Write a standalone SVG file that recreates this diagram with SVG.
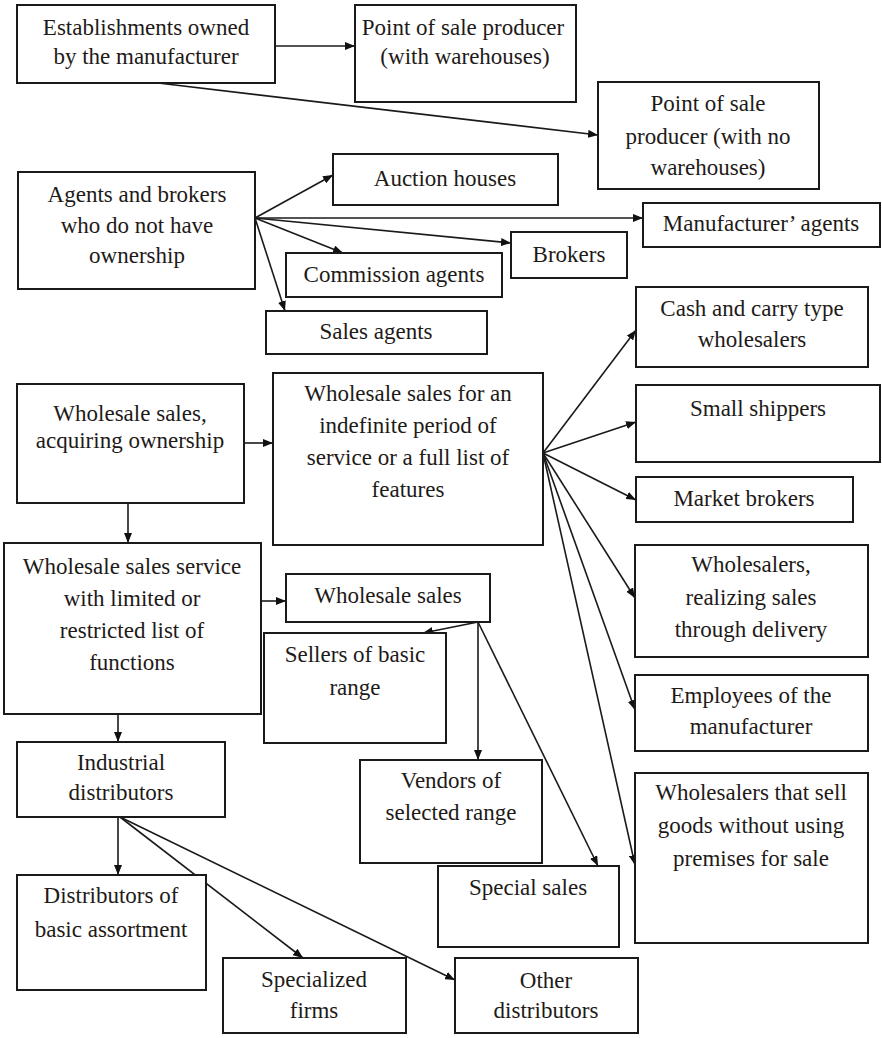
<svg xmlns="http://www.w3.org/2000/svg" width="882" height="1038" viewBox="0 0 882 1038">
  <defs>
    <marker id="arrow" viewBox="0 0 10 8" refX="10" refY="4" markerWidth="10" markerHeight="8" markerUnits="userSpaceOnUse" orient="auto">
      <path d="M0,0 L10,4 L0,8 z" fill="#111"/>
    </marker>
    <style>
      rect { fill: #fff; stroke: #1a1a1a; stroke-width: 2; }
      text { font-family: "Liberation Serif", "Times New Roman", serif; font-size: 23px; fill: #1e1a18; text-anchor: middle; }
      #connectors line { stroke: #1a1a1a; stroke-width: 1.6; marker-end: url(#arrow); }
    </style>
  </defs>
  <rect x="0" y="0" width="882" height="1038" style="fill:#fff;stroke:none"/>

  <!-- connectors -->
  <g id="connectors">
    <line x1="275" y1="46" x2="355" y2="46"/>
    <line x1="158" y1="83" x2="598" y2="135"/>
    <line x1="255" y1="218" x2="333" y2="175"/>
    <line x1="255" y1="218" x2="643" y2="218"/>
    <line x1="255" y1="218" x2="511" y2="243"/>
    <line x1="255" y1="218" x2="343" y2="253"/>
    <line x1="255" y1="218" x2="285" y2="311"/>
    <line x1="244" y1="443" x2="273" y2="443"/>
    <line x1="128" y1="503" x2="128" y2="543"/>
    <line x1="543" y1="453" x2="636" y2="330"/>
    <line x1="543" y1="453" x2="636" y2="422"/>
    <line x1="543" y1="453" x2="636" y2="500"/>
    <line x1="543" y1="453" x2="635" y2="598"/>
    <line x1="543" y1="453" x2="635" y2="710"/>
    <line x1="543" y1="453" x2="635" y2="865"/>
    <line x1="261" y1="601" x2="286" y2="601"/>
    <line x1="478" y1="622" x2="423" y2="633"/>
    <line x1="478" y1="622" x2="478" y2="760"/>
    <line x1="478" y1="622" x2="598" y2="866"/>
    <line x1="118" y1="714" x2="118" y2="742"/>
    <line x1="118" y1="817" x2="118" y2="875"/>
    <line x1="120" y1="817" x2="303" y2="958"/>
    <line x1="120" y1="817" x2="455" y2="980"/>
  </g>

  <g id="establishments">
    <rect x="17" y="5" width="258" height="78"/>
    <text x="146" y="35">Establishments owned</text>
    <text x="146" y="64">by the manufacturer</text>
  </g>
  <g id="pos-with-warehouses">
    <rect x="355" y="5" width="221" height="97"/>
    <text x="463" y="35">Point of sale producer</text>
    <text x="465" y="64">(with warehouses)</text>
  </g>
  <g id="pos-no-warehouses">
    <rect x="598" y="82" width="221" height="107"/>
    <text x="708" y="111">Point of sale</text>
    <text x="708" y="144">producer (with no</text>
    <text x="708" y="175">warehouses)</text>
  </g>
  <g id="agents-brokers">
    <rect x="18" y="172" width="237" height="117"/>
    <text x="137" y="202">Agents and brokers</text>
    <text x="137" y="233">who do not have</text>
    <text x="137" y="263">ownership</text>
  </g>
  <g id="auction-houses">
    <rect x="333" y="154" width="225" height="51"/>
    <text x="445" y="186">Auction houses</text>
  </g>
  <g id="manufacturer-agents">
    <rect x="643" y="203" width="237" height="44"/>
    <text x="761" y="231">Manufacturer’ agents</text>
  </g>
  <g id="brokers">
    <rect x="511" y="232" width="116" height="46"/>
    <text x="569" y="262">Brokers</text>
  </g>
  <g id="commission-agents">
    <rect x="286" y="253" width="216" height="44"/>
    <text x="394" y="282">Commission agents</text>
  </g>
  <g id="sales-agents">
    <rect x="266" y="311" width="221" height="43"/>
    <text x="376" y="339">Sales agents</text>
  </g>
  <g id="cash-carry">
    <rect x="636" y="287" width="232" height="80"/>
    <text x="752" y="316">Cash and carry type</text>
    <text x="752" y="347">wholesalers</text>
  </g>
  <g id="small-shippers">
    <rect x="636" y="385" width="244" height="77"/>
    <text x="758" y="416">Small shippers</text>
  </g>
  <g id="market-brokers">
    <rect x="636" y="477" width="217" height="45"/>
    <text x="744" y="506">Market brokers</text>
  </g>
  <g id="acquiring-ownership">
    <rect x="17" y="384" width="227" height="119"/>
    <text x="130" y="421">Wholesale sales,</text>
    <text x="130" y="448">acquiring ownership</text>
  </g>
  <g id="full-service">
    <rect x="273" y="373" width="270" height="172"/>
    <text x="408" y="401">Wholesale sales for an</text>
    <text x="408" y="433">indefinite period of</text>
    <text x="408" y="465">service or a full list of</text>
    <text x="408" y="497">features</text>
  </g>
  <g id="limited-service">
    <rect x="4" y="543" width="257" height="171"/>
    <text x="132" y="574">Wholesale sales service</text>
    <text x="132" y="606">with limited or</text>
    <text x="132" y="638">restricted list of</text>
    <text x="132" y="670">functions</text>
  </g>
  <g id="wholesale-sales">
    <rect x="286" y="574" width="204" height="48"/>
    <text x="388" y="603">Wholesale sales</text>
  </g>
  <g id="sellers-basic">
    <rect x="264" y="633" width="182" height="110"/>
    <text x="355" y="662">Sellers of basic</text>
    <text x="355" y="695">range</text>
  </g>
  <g id="vendors-selected">
    <rect x="360" y="760" width="182" height="103"/>
    <text x="451" y="788">Vendors of</text>
    <text x="451" y="820">selected range</text>
  </g>
  <g id="special-sales">
    <rect x="438" y="866" width="181" height="81"/>
    <text x="528" y="895">Special sales</text>
  </g>
  <g id="delivery-wholesalers">
    <rect x="635" y="545" width="233" height="112"/>
    <text x="751" y="572">Wholesalers,</text>
    <text x="751" y="605">realizing sales</text>
    <text x="751" y="637">through delivery</text>
  </g>
  <g id="manufacturer-employees">
    <rect x="635" y="675" width="233" height="76"/>
    <text x="751" y="703">Employees of the</text>
    <text x="751" y="734">manufacturer</text>
  </g>
  <g id="no-premises">
    <rect x="635" y="773" width="233" height="170"/>
    <text x="751" y="800">Wholesalers that sell</text>
    <text x="751" y="833">goods without using</text>
    <text x="751" y="866">premises for sale</text>
  </g>
  <g id="industrial-distributors">
    <rect x="17" y="742" width="208" height="75"/>
    <text x="121" y="770">Industrial</text>
    <text x="121" y="800">distributors</text>
  </g>
  <g id="basic-assortment">
    <rect x="17" y="875" width="189" height="115"/>
    <text x="111" y="903">Distributors of</text>
    <text x="111" y="937">basic assortment</text>
  </g>
  <g id="specialized-firms">
    <rect x="223" y="958" width="183" height="75"/>
    <text x="314" y="987">Specialized</text>
    <text x="314" y="1018">firms</text>
  </g>
  <g id="other-distributors">
    <rect x="455" y="958" width="183" height="75"/>
    <text x="546" y="988">Other</text>
    <text x="546" y="1018">distributors</text>
  </g>
</svg>
